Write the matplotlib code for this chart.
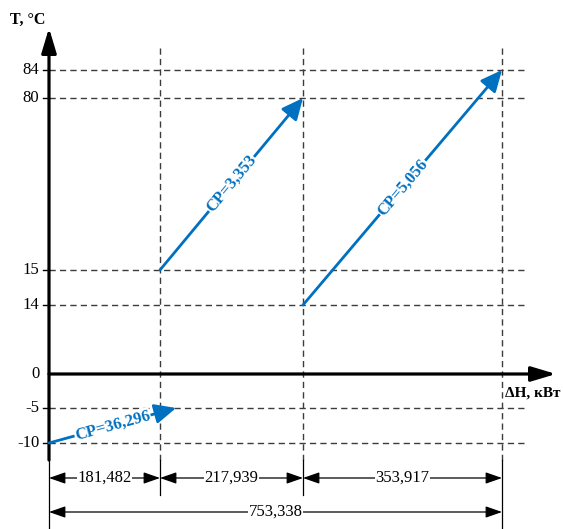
import matplotlib.pyplot as plt
import numpy as np

# heat loads of the intervals, kW
dH_parts = [181.482, 217.939, 353.917]
dH_total = 753.338
dH_labels = ["181,482", "217,939", "353,917"]
dH_total_label = "753,338"

# streams: enthalpy start/end (kW) and temperature start/end (C)
H_start = [0.0, 181.482, 399.421]
H_end = [206.0, 399.421, 753.338]  # first arrow is drawn a bit past its interval
T_start = [-10, 15, 14]
T_end = [-5, 80, 84]
CP_labels = ["CP=36,296", "CP=3,353", "CP=5,056"]

T_ticks = [-10, -5, 0, 14, 15, 80, 84]

BLUE = "#0070C0"
GREY = "#3c3c3c"
W, H = 563, 529

# the diagram is schematic: axes are piecewise-linear, not to scale
X_BREAKS = [0.0, 181.482, 399.421, 753.338]
X_POS = [49, 160, 303, 502]
Y_BREAKS = [-10, -5, 0, 14, 15, 80, 84]
Y_POS = [86, 121, 155, 224, 259, 431, 459]


def piecewise(v, xp, fp):
    v = np.asarray(v, dtype=float)
    lo = (fp[1] - fp[0]) / (xp[1] - xp[0])
    hi = (fp[-1] - fp[-2]) / (xp[-1] - xp[-2])
    return np.where(v < xp[0], fp[0] + (v - xp[0]) * lo,
                    np.where(v > xp[-1], fp[-1] + (v - xp[-1]) * hi,
                             np.interp(v, xp, fp)))


fx = lambda v: piecewise(v, X_BREAKS, X_POS)
fx_inv = lambda v: piecewise(v, X_POS, X_BREAKS)
fy = lambda v: piecewise(v, Y_BREAKS, Y_POS)
fy_inv = lambda v: piecewise(v, Y_POS, Y_BREAKS)

plt.rcParams["font.family"] = ["Liberation Serif", "DejaVu Serif"]

fig = plt.figure(figsize=(W / 100, H / 100), dpi=100)
ax = fig.add_axes([0, 0, 1, 1])
ax.set_xscale("function", functions=(fx, fx_inv))
ax.set_yscale("function", functions=(fy, fy_inv))
ax.set_xlim(float(fx_inv(0)), float(fx_inv(W)))
ax.set_ylim(float(fy_inv(0)), float(fy_inv(H)))
ax.set_axis_off()

xtr = ax.get_xaxis_transform()  # x data, y axes
ytr = ax.get_yaxis_transform()  # x axes, y data
x0 = X_POS[0] / W
x_right = 524 / W
y_axis_bottom = 1 - 460 / H
y_top_dash = 1 - 48 / H
row1 = 1 - 478 / H
row2 = 1 - 512 / H

# dashed temperature levels
dash = (0, (4.5, 3))
for t in T_ticks:
    if t == 0:
        continue
    ax.axhline(t, xmin=x0, xmax=x_right, color=GREY, lw=1.0, ls=dash, zorder=1)
    ax.axhline(t, xmin=x0 - 6 / W, xmax=x0, color="black", lw=1.0, zorder=1)
    ax.annotate(str(t), xy=(0, t), xytext=(-7, 0), textcoords="offset points",
                ha="right", va="center", fontsize=12)

# vertical boundaries of the intervals
bounds = np.cumsum(dH_parts)
for i, h in enumerate(bounds):
    ax.plot([h, h], [y_top_dash, y_axis_bottom], transform=xtr,
            color=GREY, lw=1.0, ls=dash, zorder=1)
    bottom = 0 if i == len(bounds) - 1 else 1 - 495 / H
    ax.plot([h, h], [y_axis_bottom, bottom], transform=xtr,
            color="black", lw=0.9, zorder=1)
ax.plot([0, 0], [y_axis_bottom, 0], transform=xtr, color="black", lw=0.9)

# axes with arrows
ax.annotate("", xy=(0, 1 - 28 / H), xycoords=xtr,
            xytext=(0, y_axis_bottom), textcoords=xtr,
            arrowprops=dict(arrowstyle="-|>,head_length=1.5,head_width=0.45",
                            mutation_scale=10, lw=2.3, color="black",
                            shrinkA=0, shrinkB=0))
ax.annotate("", xy=(556 / W, 0), xycoords=ytr,
            xytext=(0, 0), textcoords="data",
            arrowprops=dict(arrowstyle="-|>,head_length=1.5,head_width=0.45",
                            mutation_scale=10, lw=2.3, color="black",
                            shrinkA=0, shrinkB=0))
ax.annotate("0", xy=(0, 0), xytext=(-7, 0), textcoords="offset points",
            ha="right", va="center", fontsize=12)
ax.annotate("T, °C", xy=(0, 1 - 28 / H), xycoords=xtr, xytext=(-15, 6),
            textcoords="offset points", ha="center", va="center",
            fontsize=11.5, fontweight="bold")
ax.annotate("ΔH, кВт", xy=(dH_total, 0), xytext=(2, -14),
            textcoords="offset points", ha="left", va="center",
            fontsize=11, fontweight="bold")

# streams
for h0, h1, t0, t1, lab in zip(H_start, H_end, T_start, T_end, CP_labels):
    ax.annotate("", xy=(h1, t1), xytext=(h0, t0),
                arrowprops=dict(arrowstyle="-|>,head_length=1.3,head_width=0.6",
                                mutation_scale=10, lw=2.0, color=BLUE,
                                shrinkA=0, shrinkB=0), zorder=3)
    p0 = ax.transData.transform((h0, t0))
    p1 = ax.transData.transform((h1, t1))
    ang = np.degrees(np.arctan2(p1[1] - p0[1], p1[0] - p0[0]))
    mx, my = ax.transData.inverted().transform((p0 + p1) / 2)
    ax.text(mx, my, lab, rotation=ang, rotation_mode="anchor",
            ha="center", va="center", color=BLUE, fontsize=12,
            fontweight="bold", zorder=4,
            bbox=dict(facecolor="white", edgecolor="none", pad=0.5))

# dimension lines
dim_style = dict(arrowstyle="<|-|>,head_length=1.0,head_width=0.35",
                 mutation_scale=10, lw=0.9, color="black",
                 shrinkA=0, shrinkB=0)
left = np.concatenate([[0], bounds[:-1]])
for a, b, lab in zip(left, bounds, dH_labels):
    ax.annotate("", xy=(b, row1), xycoords=xtr, xytext=(a, row1),
                textcoords=xtr, arrowprops=dim_style)
    xm = float(fx_inv((fx(a) + fx(b)) / 2))
    ax.text(xm, row1, lab, transform=xtr, ha="center", va="center",
            fontsize=12, bbox=dict(facecolor="white", edgecolor="none", pad=0.3))
ax.annotate("", xy=(dH_total, row2), xycoords=xtr, xytext=(0, row2),
            textcoords=xtr, arrowprops=dim_style)
xm = float(fx_inv((fx(0) + fx(dH_total)) / 2))
ax.text(xm, row2, dH_total_label, transform=xtr, ha="center", va="center",
        fontsize=12, bbox=dict(facecolor="white", edgecolor="none", pad=0.3))

fig.savefig("out.png", dpi=100)
